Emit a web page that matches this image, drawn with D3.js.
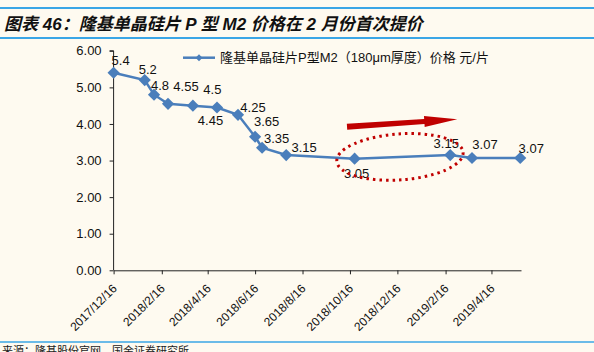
<!DOCTYPE html>
<html><head><meta charset="utf-8">
<script src="https://cdn.jsdelivr.net/npm/d3@7"></script>
<style>html,body{margin:0;padding:0;background:#fefaf0;} svg{display:block}</style>
</head><body><svg id="c" width="594" height="352"></svg>
<script>
const title = "图表 46：隆基单晶硅片 P 型 M2 价格在 2 月份首次提价";
const source = "来源：隆基股份官网，国金证券研究所";
const seriesName = "隆基单晶硅片P型M2（180μm厚度）价格 元/片";
const dates = ["2017-12-16","2018-01-25","2018-02-06","2018-02-24","2018-03-28","2018-04-28","2018-05-25","2018-06-16","2018-06-25","2018-07-26","2018-10-22","2019-02-22","2019-03-22","2019-05-23"];
const prices = [5.4, 5.2, 4.8, 4.55, 4.5, 4.45, 4.25, 3.65, 3.35, 3.15, 3.05, 3.15, 3.07, 3.07];
const priceLabels = ["5.4","5.2","4.8","4.55","4.5","4.45","4.25","3.65","3.35","3.15","3.05","3.15","3.07","3.07"];
const xTickLabels = ["2017/12/16","2018/2/16","2018/4/16","2018/6/16","2018/8/16","2018/10/16","2018/12/16","2019/2/16","2019/4/16"];
const yTicks = [0, 1, 2, 3, 4, 5, 6];
const xDomain = ["2017-12-16", "2019-05-24"];

// label placement (layout, not data)
const labelOffsets = [[7,-12.5],[3,-10.5],[6,-9.5],[18,-17.5],[19.5,-16],[-6.5,13],[15,-7],[11.5,-15],[14.5,-9],[18,-7.5],[2,15],[-4,-12],[13,-14],[11,-9.5]];

const svg = d3.select("#c");
const W = 594, H = 352;
const pD = d3.utcParse("%Y-%m-%d");
const pT = d3.utcParse("%Y/%m/%d");
const data = dates.map((d, i) => ({date: pD(d), v: prices[i], label: priceLabels[i], off: labelOffsets[i]}));

svg.append("rect").attr("width", W).attr("height", H).attr("fill", "#fefaf0");

const blue = "#3aa6e6";
svg.append("line").attr("x1", 0).attr("x2", W).attr("y1", 8).attr("y2", 8).attr("stroke", blue).attr("stroke-width", 2);
svg.append("line").attr("x1", 0).attr("x2", W).attr("y1", 38).attr("y2", 38).attr("stroke", blue).attr("stroke-width", 2);
svg.append("line").attr("x1", 0).attr("x2", W).attr("y1", 342).attr("y2", 342).attr("stroke", blue).attr("stroke-width", 1.5);

svg.append("text").attr("x", 4).attr("y", 29.5)
  .attr("font-family", "'Liberation Sans', Arial, 'Noto Sans CJK SC', sans-serif")
  .attr("font-size", 17).attr("font-weight", "bold").attr("font-style", "italic")
  .attr("fill", "#111").text(title);

svg.append("text").attr("x", 2).attr("y", 355)
  .attr("font-family", "'Noto Sans CJK SC', sans-serif")
  .attr("font-size", 11).attr("fill", "#222").text(source);

const x = d3.scaleUtc().domain(xDomain.map(pD)).range([113.6, 521]);
const y = d3.scaleLinear().domain([0, 6]).range([270.3, 50.8]);

const font = "'Liberation Sans', Arial, 'Noto Sans CJK SC', sans-serif";

// y axis
const yAxis = svg.append("g").attr("transform", `translate(${x.range()[0]},0)`)
  .call(d3.axisLeft(y).tickValues(yTicks).tickFormat(d3.format(".2f")).tickSize(4).tickPadding(8));
yAxis.select(".domain").attr("stroke", "#222").attr("d", `M-4,${y(6)}H0V${y(0)}`);
yAxis.selectAll(".tick line").attr("stroke", "#222");
yAxis.selectAll(".tick text").attr("font-family", font).attr("font-size", 13).attr("fill", "#111");

// x axis
const xAxis = svg.append("g").attr("transform", `translate(0,${y(0)})`)
  .call(d3.axisBottom(x).tickValues(xTickLabels.map(pT)).tickFormat((d, i) => xTickLabels[i]).tickSize(4).tickSizeOuter(0));
xAxis.select(".domain").attr("stroke", "#222");
xAxis.selectAll(".tick line").attr("stroke", "#222");
xAxis.selectAll(".tick text").attr("font-family", font).attr("font-size", 12).attr("fill", "#111")
  .attr("text-anchor", "end").attr("y", 0).attr("dy", 0)
  .attr("transform", "translate(3.5,19) rotate(-45)");

// line
const lineColor = "#4a7ebb";
svg.append("path").datum(data)
  .attr("fill", "none").attr("stroke", lineColor).attr("stroke-width", 2.5)
  .attr("d", d3.line().x(d => x(d.date)).y(d => y(d.v)));

const diamond = d3.symbol().type(d3.symbolDiamond2).size(95);
svg.append("g").selectAll("path").data(data).join("path")
  .attr("transform", d => `translate(${x(d.date)},${y(d.v)})`)
  .attr("d", diamond).attr("fill", lineColor);

svg.append("g").selectAll("text").data(data).join("text")
  .attr("x", d => x(d.date) + d.off[0]).attr("y", d => y(d.v) + d.off[1])
  .attr("dy", "0.35em").attr("text-anchor", "middle")
  .attr("font-family", font).attr("font-size", 13).attr("fill", "#111")
  .text(d => d.label);

// annotations: ellipse around last drop/rise, arrow
const a = data[10], b = data[11];
const ex1 = x(a.date) - 18, ex2 = x(b.date) + 13;
const ecx = (ex1 + ex2) / 2, ecy = y((a.v + b.v) / 2);
svg.append("ellipse").attr("cx", 0).attr("cy", 0).attr("rx", (ex2 - ex1) / 2).attr("ry", 23)
  .attr("transform", `translate(${ecx},${ecy}) rotate(-4)`)
  .attr("fill", "none").attr("stroke", "#c00000").attr("stroke-width", 3)
  .attr("stroke-dasharray", "2.5 4");

const ax0 = x(a.date) - 7.6, ay0 = 126.7, ax1 = x(b.date) + 7, ay1 = 119.3;
const dx = ax1 - ax0, dy = ay1 - ay0, L = Math.hypot(dx, dy);
const ux = dx / L, uy = dy / L, nx = -uy, ny = ux;
const hl = 33, sw = 3, hw = 5.5;
const bx = ax1 - ux * hl, by = ay1 - uy * hl;
const pts = [
  [ax0 + nx * sw, ay0 + ny * sw], [bx + nx * sw * 0.8, by + ny * sw * 0.8], [bx + nx * hw, by + ny * hw],
  [ax1, ay1],
  [bx - nx * hw, by - ny * hw], [bx - nx * sw * 0.8, by - ny * sw * 0.8], [ax0 - nx * sw, ay0 - ny * sw]
];
svg.append("path").attr("d", "M" + pts.map(p => p.join(",")).join("L") + "Z").attr("fill", "#c00000");

// legend
const lg = svg.append("g").attr("transform", "translate(183,57.7)");
lg.append("line").attr("x1", 0).attr("x2", 32).attr("stroke", lineColor).attr("stroke-width", 2.5);
lg.append("path").attr("transform", "translate(16,0)").attr("d", d3.symbol().type(d3.symbolDiamond2).size(30)).attr("fill", lineColor);
lg.append("text").attr("x", 37).attr("dy", "0.35em").attr("font-family", font).attr("font-size", 13).attr("fill", "#111").text(seriesName);
</script></body></html>
